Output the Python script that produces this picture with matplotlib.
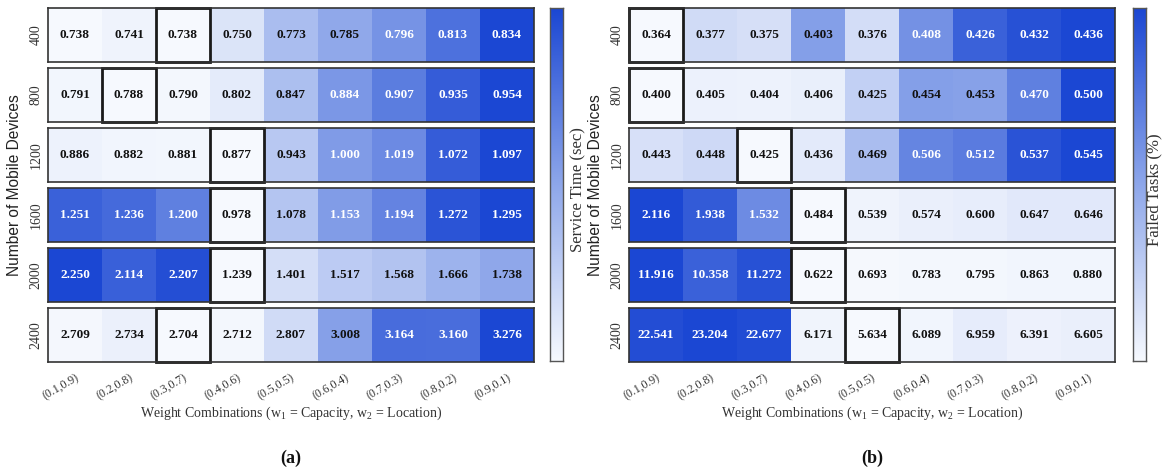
import numpy as np
import matplotlib
matplotlib.use("Agg")
import matplotlib.pyplot as plt
from matplotlib.colors import LinearSegmentedColormap, Normalize
from matplotlib.patches import Rectangle

# weight combinations (w1 = capacity, w2 = location)
weights = ["(0.1,0.9)", "(0.2,0.8)", "(0.3,0.7)", "(0.4,0.6)", "(0.5,0.5)",
           "(0.6,0.4)", "(0.7,0.3)", "(0.8,0.2)", "(0.9,0.1)"]
devices = [400, 800, 1200, 1600, 2000, 2400]

service_time = [
    [0.738, 0.741, 0.738, 0.750, 0.773, 0.785, 0.796, 0.813, 0.834],
    [0.791, 0.788, 0.790, 0.802, 0.847, 0.884, 0.907, 0.935, 0.954],
    [0.886, 0.882, 0.881, 0.877, 0.943, 1.000, 1.019, 1.072, 1.097],
    [1.251, 1.236, 1.200, 0.978, 1.078, 1.153, 1.194, 1.272, 1.295],
    [2.250, 2.114, 2.207, 1.239, 1.401, 1.517, 1.568, 1.666, 1.738],
    [2.709, 2.734, 2.704, 2.712, 2.807, 3.008, 3.164, 3.160, 3.276],
]
failed_tasks = [
    [0.364, 0.377, 0.375, 0.403, 0.376, 0.408, 0.426, 0.432, 0.436],
    [0.400, 0.405, 0.404, 0.406, 0.425, 0.454, 0.453, 0.470, 0.500],
    [0.443, 0.448, 0.425, 0.436, 0.469, 0.506, 0.512, 0.537, 0.545],
    [2.116, 1.938, 1.532, 0.484, 0.539, 0.574, 0.600, 0.647, 0.646],
    [11.916, 10.358, 11.272, 0.622, 0.693, 0.783, 0.795, 0.863, 0.880],
    [22.541, 23.204, 22.677, 6.171, 5.634, 6.089, 6.959, 6.391, 6.605],
]
# best weight combination per row (boxed cell)
best_service = [2, 1, 3, 3, 3, 2]
best_failed = [0, 0, 2, 3, 3, 4]

W, H = 1162, 473
fig = plt.figure(figsize=(W / 100, H / 100), dpi=100)
cmap = LinearSegmentedColormap.from_list("wb", ["#f6f9fe", "#8ea7ea", "#1b47d3"])
SERIF = "Liberation Serif"

plt.rcParams["mathtext.fontset"] = "custom"
plt.rcParams["mathtext.rm"] = SERIF
plt.rcParams["mathtext.it"] = SERIF


def px_axes(left, top, width, height):
    return fig.add_axes([left / W, 1 - (top + height) / H, width / W, height / H])


def draw_panel(data, best, x0, cbar_x, cbar_label, label_x, tag):
    width = 486
    for i, row in enumerate(data):
        row = np.array(row)
        ax = px_axes(x0, 8 + 60 * i, width, 54)
        norm = Normalize(row.min(), row.max())
        ax.imshow(row[None, :], cmap=cmap, norm=norm, aspect="auto")
        for j, v in enumerate(row):
            color = "white" if norm(v) > 0.545 else "#111111"
            ax.text(j, 0, f"{v:.3f}", ha="center", va="center", color=color,
                    fontsize=9.5, fontweight="bold", family=SERIF)
        ax.add_patch(Rectangle((best[i] - 0.5, -0.5), 1, 1, fill=False,
                               ec="#1a1a1a", lw=2.0, clip_on=False))
        for s in ax.spines.values():
            s.set_color("#333333")
            s.set_linewidth(1.2)
        ax.set_yticks([0])
        ax.set_yticklabels([str(devices[i])], rotation=90, va="center",
                           family=SERIF, fontsize=10, color="#333333")
        ax.tick_params(axis="y", length=0, pad=4)
        ax.set_xticks(range(len(weights)))
        if i == len(data) - 1:
            ax.set_xticklabels(weights, rotation=30, ha="right", rotation_mode="anchor",
                               family=SERIF, fontsize=8.5, color="#333333")
            ax.tick_params(axis="x", length=0, pad=7)
        else:
            ax.tick_params(axis="x", length=0, labelbottom=False)

    # colour bar
    cax = px_axes(cbar_x, 8, 13, 353)
    cax.imshow(np.linspace(1, 0, 256)[:, None], cmap=cmap, aspect="auto")
    cax.set_xticks([])
    cax.set_yticks([])
    for s in cax.spines.values():
        s.set_color("#555555")
        s.set_linewidth(1.0)
    fig.text(label_x / W, 1 - 190 / H, cbar_label, rotation=90, ha="center",
             va="center", family=SERIF, fontsize=12, color="#333333")

    fig.text((x0 - 33) / W, 1 - 185 / H, "Number of Mobile Devices", rotation=90,
             ha="center", va="center", fontsize=11.2, color="#222222",
             family="Liberation Sans")
    cx = x0 + width / 2
    fig.text(cx / W, 1 - 413 / H,
             r"Weight Combinations (w$_1$ = Capacity, w$_2$ = Location)",
             ha="center", va="center", family=SERIF, fontsize=10, color="#333333")
    fig.text(cx / W, 1 - 458 / H, tag, ha="center", va="center", family=SERIF,
             fontsize=13, fontweight="bold", color="#111111")


draw_panel(service_time, best_service, 48, 550, "Service Time (sec)", 578, "(a)")
draw_panel(failed_tasks, best_failed, 629, 1133, "Failed Tasks (%)", 1154, "(b)")

fig.savefig("out.png", dpi=100)
